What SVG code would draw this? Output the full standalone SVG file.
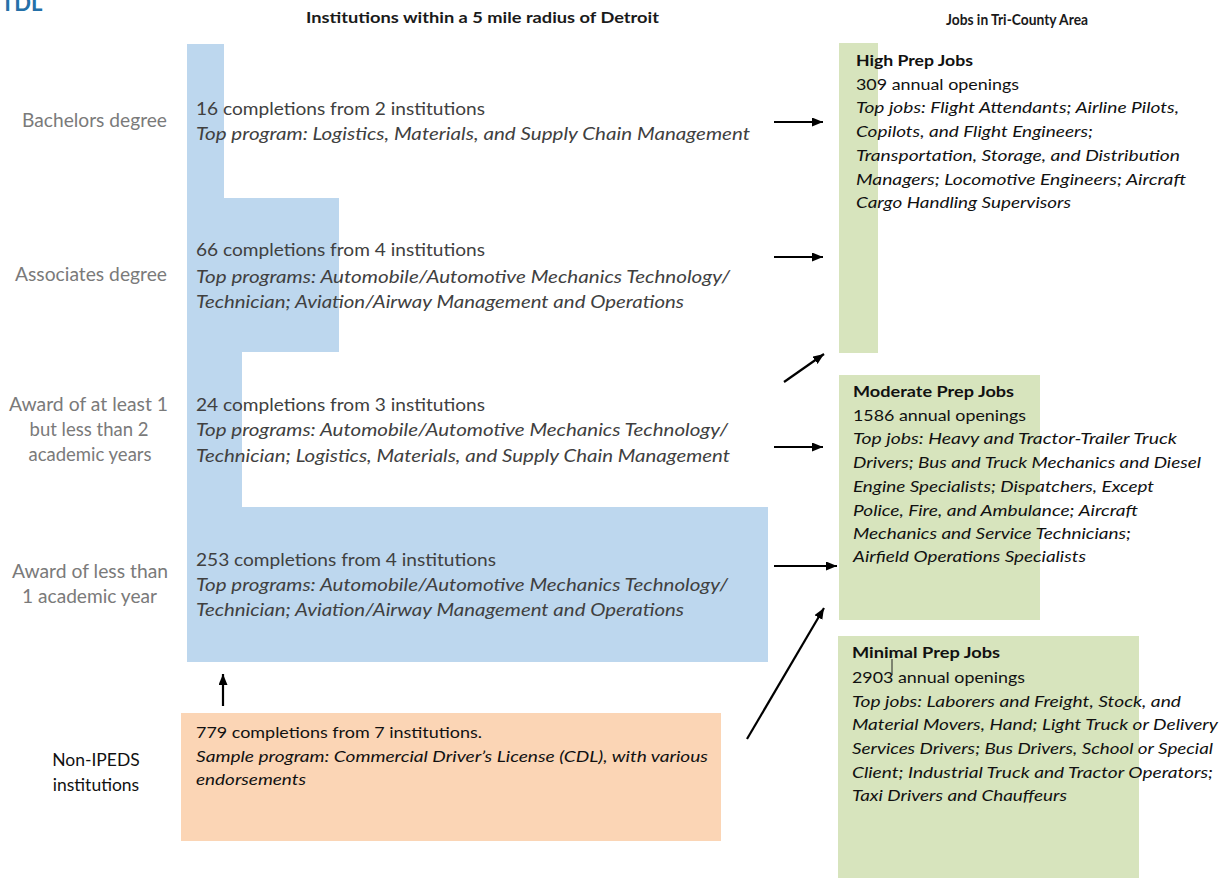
<svg xmlns="http://www.w3.org/2000/svg" width="1229" height="878" viewBox="0 0 1229 878">
<defs>
<style>
text{font-family:Lato,"Open Sans","Liberation Sans",sans-serif}
.hdr{font-size:16px;font-weight:bold;fill:#1a1a1a}
.lbl{font-size:18.5px;fill:#7a7a7a;text-anchor:middle}
.lblk{font-size:17.5px;fill:#111;text-anchor:middle}
.bt{font-size:17px;fill:#404040}
.ot{font-size:16px;fill:#111}
.gt{font-size:16px;fill:#111}
.it{font-style:italic}
.b{font-weight:bold}
.blue{fill:#BDD7EE}
.green{fill:#D7E4BD}
.orange{fill:#FBD5B5}
.arr{stroke:#000;stroke-width:2.2;fill:none;marker-end:url(#ah)}
</style>
<marker id="ah" markerUnits="userSpaceOnUse" markerWidth="12" markerHeight="10" refX="11" refY="4.5" orient="auto">
<path d="M0,0 L11,4.5 L0,9 z" fill="#000"/>
</marker>
</defs>
<rect width="1229" height="878" fill="#fff"/>

<g id="title">
<text x="1" y="11" font-size="22" font-weight="bold" fill="#2470A8">TDL</text>
<text class="hdr" x="306" y="23" textLength="353" lengthAdjust="spacingAndGlyphs">Institutions within a 5 mile radius of Detroit</text>
<text class="hdr" x="946" y="25" textLength="142" lengthAdjust="spacingAndGlyphs">Jobs in Tri-County Area</text>
</g>

<g id="labels">
<text class="lbl" x="94.5" y="127" textLength="145" lengthAdjust="spacingAndGlyphs">Bachelors degree</text>
<text class="lbl" x="91" y="281" textLength="152" lengthAdjust="spacingAndGlyphs">Associates degree</text>
<text class="lbl" x="88.5" y="411" textLength="159" lengthAdjust="spacingAndGlyphs">Award of at least 1</text>
<text class="lbl" x="89" y="436">but less than 2</text>
<text class="lbl" x="90" y="461">academic years</text>
<text class="lbl" x="90" y="578" textLength="156" lengthAdjust="spacingAndGlyphs">Award of less than</text>
<text class="lbl" x="89.5" y="603" textLength="135" lengthAdjust="spacingAndGlyphs">1 academic year</text>
<text class="lblk" x="96" y="766">Non-IPEDS</text>
<text class="lblk" x="96" y="791">institutions</text>
</g>

<g id="bachelors">
<rect class="blue" x="187" y="44" width="37" height="154"/>
<text class="bt" x="196" y="115" textLength="289" lengthAdjust="spacingAndGlyphs">16 completions from 2 institutions</text>
<text class="bt it" x="196" y="140" textLength="554" lengthAdjust="spacingAndGlyphs">Top program: Logistics, Materials, and Supply Chain Management</text>
</g>

<g id="associates">
<rect class="blue" x="187" y="198" width="152" height="154"/>
<text class="bt" x="196" y="256" textLength="289" lengthAdjust="spacingAndGlyphs">66 completions from 4 institutions</text>
<text class="bt it" x="196" y="283" textLength="534" lengthAdjust="spacingAndGlyphs">Top programs: Automobile/Automotive Mechanics Technology/</text>
<text class="bt it" x="196" y="308" textLength="488" lengthAdjust="spacingAndGlyphs">Technician; Aviation/Airway Management and Operations</text>
</g>

<g id="award-1-2">
<rect class="blue" x="187" y="352" width="55" height="155"/>
<text class="bt" x="196" y="411" textLength="289" lengthAdjust="spacingAndGlyphs">24 completions from 3 institutions</text>
<text class="bt it" x="196" y="436" textLength="532" lengthAdjust="spacingAndGlyphs">Top programs: Automobile/Automotive Mechanics Technology/</text>
<text class="bt it" x="196" y="462" textLength="534" lengthAdjust="spacingAndGlyphs">Technician; Logistics, Materials, and Supply Chain Management</text>
</g>

<g id="award-lt1">
<rect class="blue" x="187" y="507" width="581" height="155"/>
<text class="bt" x="196" y="566" textLength="300" lengthAdjust="spacingAndGlyphs">253 completions from 4 institutions</text>
<text class="bt it" x="196" y="591" textLength="532" lengthAdjust="spacingAndGlyphs">Top programs: Automobile/Automotive Mechanics Technology/</text>
<text class="bt it" x="196" y="616" textLength="488" lengthAdjust="spacingAndGlyphs">Technician; Aviation/Airway Management and Operations</text>
</g>

<g id="non-ipeds">
<rect class="orange" x="181" y="713" width="540" height="128"/>
<text class="ot" x="196" y="738" textLength="286" lengthAdjust="spacingAndGlyphs">779 completions from 7 institutions.</text>
<text class="ot it" x="196" y="762" textLength="512" lengthAdjust="spacingAndGlyphs">Sample program: Commercial Driver’s License (CDL), with various</text>
<text class="ot it" x="196" y="785" textLength="110" lengthAdjust="spacingAndGlyphs">endorsements</text>
</g>

<g id="high-prep">
<rect class="green" x="839" y="43" width="39" height="310"/>
<text class="gt b" x="856" y="66" textLength="117" lengthAdjust="spacingAndGlyphs">High Prep Jobs</text>
<text class="gt" x="856" y="90" textLength="163" lengthAdjust="spacingAndGlyphs">309 annual openings</text>
<text class="gt it" x="856" y="113" textLength="323" lengthAdjust="spacingAndGlyphs">Top jobs: Flight Attendants; Airline Pilots,</text>
<text class="gt it" x="856" y="137" textLength="237" lengthAdjust="spacingAndGlyphs">Copilots, and Flight Engineers;</text>
<text class="gt it" x="856" y="161" textLength="324" lengthAdjust="spacingAndGlyphs">Transportation, Storage, and Distribution</text>
<text class="gt it" x="856" y="185" textLength="330" lengthAdjust="spacingAndGlyphs">Managers; Locomotive Engineers; Aircraft</text>
<text class="gt it" x="856" y="208" textLength="215" lengthAdjust="spacingAndGlyphs">Cargo Handling Supervisors</text>
</g>

<g id="moderate-prep">
<rect class="green" x="839" y="375" width="201" height="245"/>
<text class="gt b" x="853" y="397" textLength="161" lengthAdjust="spacingAndGlyphs">Moderate Prep Jobs</text>
<text class="gt" x="853" y="421" textLength="173" lengthAdjust="spacingAndGlyphs">1586 annual openings</text>
<text class="gt it" x="853" y="444" textLength="324" lengthAdjust="spacingAndGlyphs">Top jobs: Heavy and Tractor-Trailer Truck</text>
<text class="gt it" x="853" y="468" textLength="348" lengthAdjust="spacingAndGlyphs">Drivers; Bus and Truck Mechanics and Diesel</text>
<text class="gt it" x="853" y="492" textLength="301" lengthAdjust="spacingAndGlyphs">Engine Specialists; Dispatchers, Except</text>
<text class="gt it" x="853" y="516" textLength="285" lengthAdjust="spacingAndGlyphs">Police, Fire, and Ambulance; Aircraft</text>
<text class="gt it" x="853" y="539" textLength="278" lengthAdjust="spacingAndGlyphs">Mechanics and Service Technicians;</text>
<text class="gt it" x="853" y="562" textLength="233" lengthAdjust="spacingAndGlyphs">Airfield Operations Specialists</text>
</g>

<g id="minimal-prep">
<rect class="green" x="838" y="636" width="301" height="242"/>
<text class="gt b" x="852" y="658" textLength="148" lengthAdjust="spacingAndGlyphs">Minimal Prep Jobs</text>
<text class="gt" x="852" y="683" textLength="173" lengthAdjust="spacingAndGlyphs">2903 annual openings</text>
<line x1="892" y1="659" x2="892" y2="675" stroke="#222" stroke-width="1"/>
<text class="gt it" x="852" y="707" textLength="329" lengthAdjust="spacingAndGlyphs">Top jobs: Laborers and Freight, Stock, and</text>
<text class="gt it" x="852" y="730" textLength="366" lengthAdjust="spacingAndGlyphs">Material Movers, Hand; Light Truck or Delivery</text>
<text class="gt it" x="852" y="754" textLength="361" lengthAdjust="spacingAndGlyphs">Services Drivers; Bus Drivers, School or Special</text>
<text class="gt it" x="852" y="778" textLength="361" lengthAdjust="spacingAndGlyphs">Client; Industrial Truck and Tractor Operators;</text>
<text class="gt it" x="852" y="801" textLength="215" lengthAdjust="spacingAndGlyphs">Taxi Drivers and Chauffeurs</text>
</g>

<g id="connectors">
<path class="arr" d="M774,122 L823,122"/>
<path class="arr" d="M774,257 L823,257"/>
<path class="arr" d="M784,382 L824,354"/>
<path class="arr" d="M774,447 L823,447"/>
<path class="arr" d="M774,566 L837,566"/>
<path class="arr" d="M747,739 L824,608"/>
<path class="arr" d="M223,706 L223,674"/>
</g>
</svg>
